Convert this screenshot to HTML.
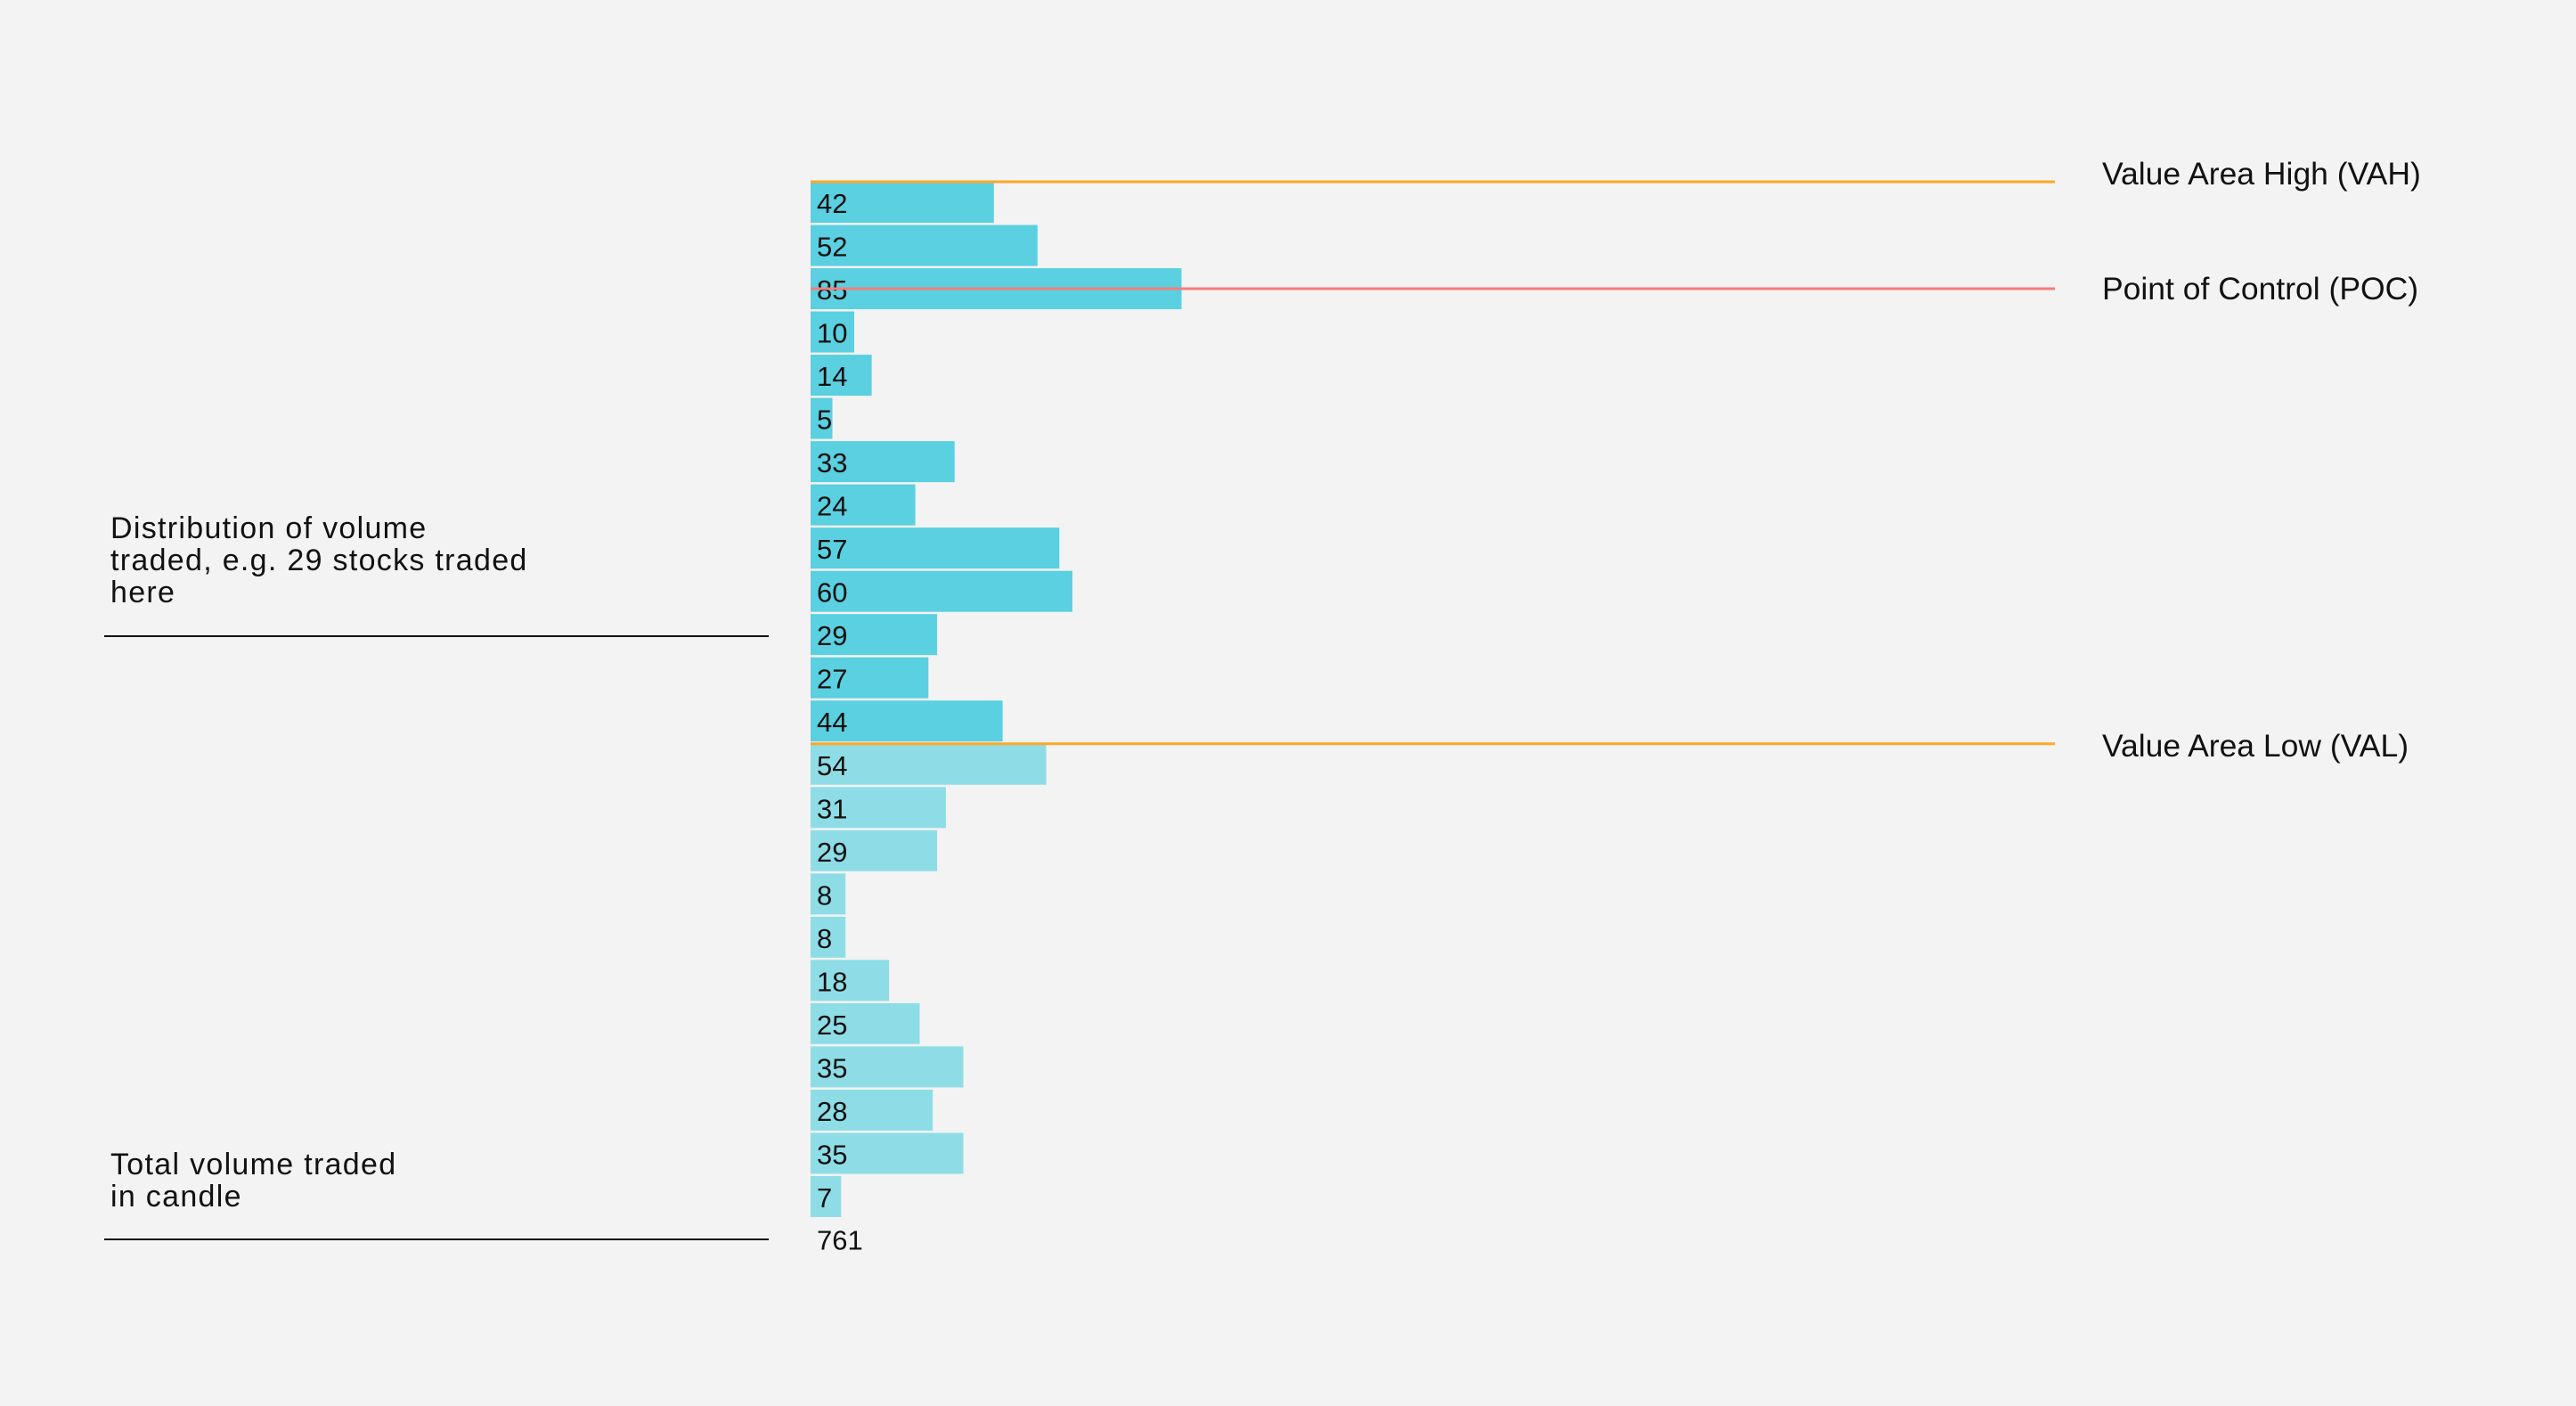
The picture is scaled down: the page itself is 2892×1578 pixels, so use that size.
<!DOCTYPE html>
<html><head><meta charset="utf-8"><style>
html,body{margin:0;padding:0;background:#f3f3f3;}
svg{display:block;font-family:"Liberation Sans",sans-serif;}
</style></head><body>
<svg id="chart" width="2892" height="1578" viewBox="0 0 2892 1578">
<rect width="2892" height="1578" fill="#f3f3f3"/>
<g id="bars"></g>
<g id="lines"></g>
<g fill="#111">
<text x="2360" y="207" font-size="35.5">Value Area High (VAH)</text>
<text x="2360" y="336" font-size="35.5">Point of Control (POC)</text>
<text x="2360" y="849" font-size="35.5">Value Area Low (VAL)</text>
<text font-size="34" letter-spacing="1.3">
<tspan x="124" y="604">Distribution of volume</tspan>
<tspan x="124" y="640">traded, e.g. 29 stocks traded</tspan>
<tspan x="124" y="676">here</tspan></text>
<line x1="117" x2="863" y1="714" y2="714" stroke="#111" stroke-width="2"/>
<text font-size="34" letter-spacing="1.3">
<tspan x="124" y="1318">Total volume traded</tspan>
<tspan x="124" y="1354">in candle</tspan></text>
<line x1="117" x2="863" y1="1391" y2="1391" stroke="#111" stroke-width="2"/>
</g>
</svg>
<script>
const volumes = [42,52,85,10,14,5,33,24,57,60,29,27,44,54,31,29,8,8,18,25,35,28,35,7];
const vahIndex = 0;
const pocIndex = 2;
const valIndex = 13;
const total = 761;

const NS = "http://www.w3.org/2000/svg";
const x0 = 910, top0 = 204, pitch = 48.52, barH = 46, unit = 4.9;
const xScale = v => v * unit;
const yScale = i => top0 + i * pitch;
const barsG = document.getElementById('bars');
const linesG = document.getElementById('lines');
volumes.forEach((v, i) => {
  const r = document.createElementNS(NS, 'rect');
  
  
  r.setAttribute('x', x0);
  r.setAttribute('y', yScale(i));
  r.setAttribute('width', xScale(v));
  r.setAttribute('height', barH);
  r.setAttribute('fill', i < valIndex ? '#5ad0e0' : '#8edde6');
  barsG.appendChild(r);
  const t = document.createElementNS(NS, 'text');
  
  
  t.setAttribute('x', x0 + 7);
  t.setAttribute('y', yScale(i) + 35);
  t.setAttribute('font-size', '31');
  t.setAttribute('fill', '#111');
  t.textContent = v;
  barsG.appendChild(t);
});
const tt = document.createElementNS(NS, 'text');


tt.setAttribute('x', x0 + 7);
tt.setAttribute('y', yScale(volumes.length) + 34);
tt.setAttribute('font-size', '31');
tt.setAttribute('fill', '#111');
tt.textContent = total;
barsG.appendChild(tt);
function hline(name, y, color, w) {
  const l = document.createElementNS(NS, 'line');
  
  
  l.setAttribute('x1', x0); l.setAttribute('x2', 2307);
  l.setAttribute('y1', y); l.setAttribute('y2', y);
  l.setAttribute('stroke', color); l.setAttribute('stroke-width', w);
  linesG.appendChild(l);
}
hline('vah-line', yScale(vahIndex), '#ffa726', 3);
hline('poc-line', yScale(pocIndex) + barH / 2, '#f77b7b', 3);
hline('val-line', yScale(valIndex), '#ffa726', 3);
</script>
</body></html>
